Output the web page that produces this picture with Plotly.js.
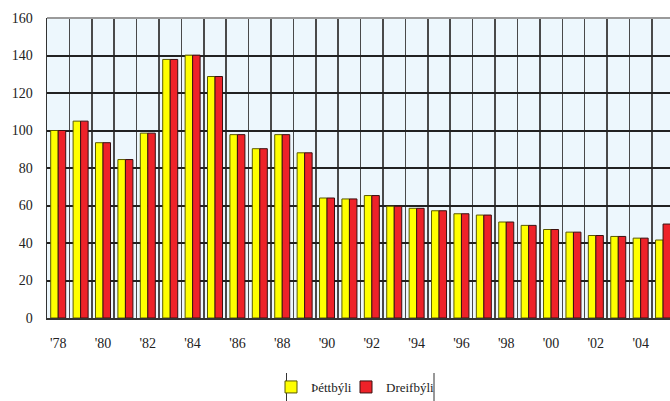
<!DOCTYPE html>
<html><head><meta charset="utf-8">
<script src="https://cdn.plot.ly/plotly-3.0.1.min.js"></script>
<style>html,body{margin:0;padding:0;background:#fff}</style>
</head><body><div id="chart" style="width:670px;height:401px"></div>
<script>
const years = [1978,1979,1980,1981,1982,1983,1984,1985,1986,1987,1988,1989,1990,1991,1992,1993,1994,1995,1996,1997,1998,1999,2000,2001,2002,2003,2004,2005];
const thettbyli = [100,105,93.5,84.5,98.6,137.9,140.2,128.8,97.8,90.3,97.8,88.1,64,63.5,65.3,59.6,58.5,57.2,55.6,54.9,51.2,49.4,47.2,45.8,44,43.5,42.6,41.6];
const dreifbyli = [100,105,93.5,84.5,98.6,137.9,140.2,128.8,97.8,90.3,97.8,88.1,64,63.5,65.3,59.6,58.5,57.2,55.6,54.9,51.2,49.4,47.2,45.8,44,43.5,42.6,50.1];
const seriesNames = ['Þéttbýli','Dreifbýli'];
const tickYears = years.filter(y => y % 2 === 0);

const idx = years.map((y,i)=>i);
const tickIdx = years.map((y,i)=>i).filter(i => years[i] % 2 === 0);
const tickText = tickYears.map(y => "'" + String(y).slice(2));

const traces = [
  {type:'bar', x: idx, y: thettbyli, name: seriesNames[0], legend:'legend',
   marker:{color:'#FFFF00', line:{color:'#5a5a00', width:1}}},
  {type:'bar', x: idx, y: dreifbyli, name: seriesNames[1], legend:'legend2',
   marker:{color:'#EE2229', line:{color:'#3a1010', width:1}}}
];

const font = {family:'Liberation Serif, Times New Roman, serif', size:14, color:'#222'};
const legFont = {family:'Liberation Serif, Times New Roman, serif', size:13, color:'#222'};

const legendBase = {orientation:'h', xanchor:'left', yanchor:'top', bgcolor:'rgba(0,0,0,0)', itemwidth:30, y:-(372-318)/300, font:legFont};

const layout = {
  width:670, height:401,
  margin:{l:47, r:0, t:18, b:83, pad:0, autoexpand:false},
  paper_bgcolor:'#ffffff',
  plot_bgcolor:'#EDF7FD',
  font: font,
  barmode:'group',
  bargap:0.33,
  bargroupgap:0,
  showlegend:true,
  legend:Object.assign({}, legendBase, {x:(271-47)/623}),
  legend2:Object.assign({}, legendBase, {x:(346-47)/623}),
  xaxis:{
    range:[-0.5, 27.31],
    tickmode:'array', tickvals: tickIdx, ticktext: tickText,
    ticks:'outside', ticklen:12, tickcolor:'rgba(0,0,0,0)',
    showgrid:false, zeroline:false,
    showline:true, linecolor:'#333', linewidth:1.5,
    minor:{tickmode:'linear', tick0:-0.5, dtick:1, showgrid:true, gridcolor:'#4a4a4a', gridwidth:1.5, ticks:''},
    tickfont:font, fixedrange:true
  },
  yaxis:{
    range:[0,160], tickmode:'linear', tick0:0, dtick:20,
    showgrid:true, gridcolor:'#222', gridwidth:2,
    zeroline:false, showline:true, linecolor:'#333', linewidth:1.5,
    ticks:'outside', ticklen:10, tickcolor:'rgba(0,0,0,0)',
    tickfont:font, fixedrange:true
  },
  shapes:[
    {type:'line', xref:'paper', yref:'paper', x0:0, x1:1, y0:1, y1:1, line:{color:'#9a9a9a', width:2}},
    {type:'line', xref:'paper', yref:'paper', x0:(286.5-47)/623, x1:(286.5-47)/623, y0:-(373-318)/300, y1:-(401-318)/300, line:{color:'#333', width:1}},
    {type:'line', xref:'paper', yref:'paper', x0:(434-47)/623, x1:(434-47)/623, y0:-(373-318)/300, y1:-(401-318)/300, line:{color:'#333', width:1}}
  ]
};

Plotly.newPlot('chart', traces, layout, {displayModeBar:false, staticPlot:true});
</script></body></html>
